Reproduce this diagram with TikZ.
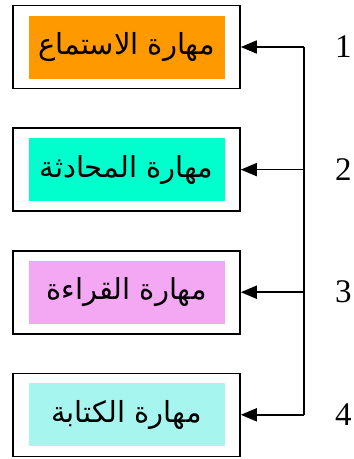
\documentclass[tikz,border=0pt]{standalone}
\usepackage{fontspec}
\setmainfont{Liberation Serif}
\newfontfamily\arabicfont[Script=Arabic]{DejaVu Sans}
\TeXXeTstate=1
\usetikzlibrary{positioning,arrows.meta}

\definecolor{listenfill}{HTML}{FF9900}
\definecolor{speakfill}{HTML}{00FFCC}
\definecolor{readfill}{HTML}{F4A8F4}
\definecolor{writefill}{HTML}{A6F5EE}

\begin{document}
\begin{tikzpicture}[x=1pt,y=-1pt,
    skill/.style={draw,line width=1.6pt,minimum width=227pt,minimum height=83pt,inner sep=0pt},
    skilltext/.style={minimum width=196pt,minimum height=63pt,inner sep=0pt,
      font=\arabicfont\fontsize{29}{34}\selectfont},
    num/.style={anchor=west,inner sep=0pt,font=\fontsize{33}{40}\selectfont},
    link/.style={line width=1.7pt},
    node distance=38pt]
  \useasboundingbox (0,0) rectangle (354,459);
  % outer frames
  \node[skill] (listen) at (126.5,47) {};
  \node[skill,below=of listen] (speak) {};
  \node[skill,below=of speak] (read) {};
  \node[skill,below=of read] (write) {};
  % coloured labels
  \node[skilltext,fill=listenfill] (listen text) at (listen) {\beginR مهارة الاستماع\endR};
  \node[skilltext,fill=speakfill] (speak text) at (speak) {\beginR مهارة المحادثة\endR};
  \node[skilltext,fill=readfill] (read text) at (read) {\beginR مهارة القراءة\endR};
  \node[skilltext,fill=writefill] (write text) at (write) {\beginR مهارة الكتابة\endR};
  % turning points on the spine
  \path (listen.east) ++(63,0) coordinate (turn listen);
  \path (speak.east) ++(63,0) coordinate (turn speak);
  \path (read.east) ++(63,0) coordinate (turn read);
  \path (write.east) ++(63,0) coordinate (turn write);
  \draw[link] (turn listen) -- (turn write);
  \foreach \s in {listen,speak,read,write}
    \draw[link,-{Triangle[length=16pt,width=13pt]}] (turn \s) -- (\s.east);
  % numbers
  \node[num,right=31pt of turn listen] (n1) {1};
  \node[num,right=31pt of turn speak] (n2) {2};
  \node[num,right=31pt of turn read] (n3) {3};
  \node[num,right=31pt of turn write] (n4) {4};
\end{tikzpicture}
\end{document}
